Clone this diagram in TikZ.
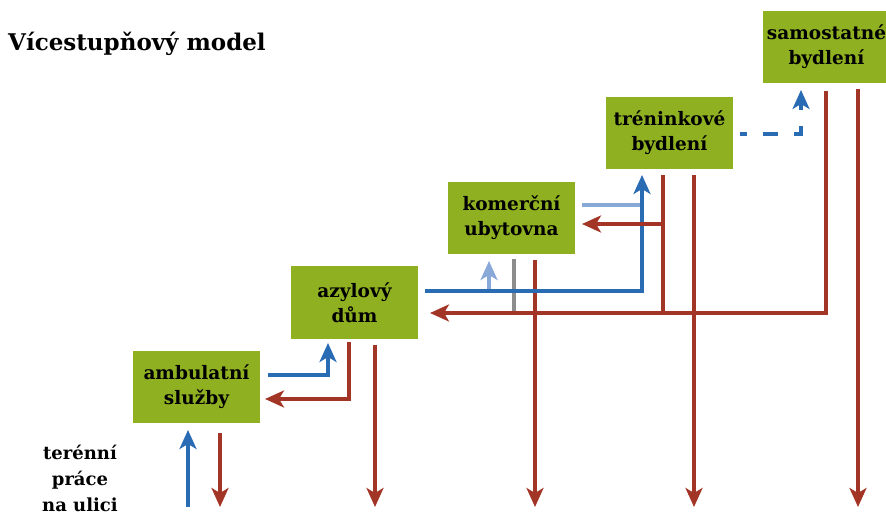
\documentclass[tikz,border=0pt]{standalone}
\usepackage{fontspec}
\setmainfont{DejaVu Serif}
\usepackage{xcolor}
\usetikzlibrary{arrows.meta}

\definecolor{stepgreen}{HTML}{8FB021}
\definecolor{upblue}{HTML}{2A6CB4}
\definecolor{lightblue}{HTML}{88A8D8}
\definecolor{downred}{HTML}{A33526}

\begin{document}
\begin{tikzpicture}[x=1pt,y=-1pt,
            level/.style={rectangle,fill=stepgreen,minimum width=127pt,minimum height=72pt,
                inner sep=0pt,align=center,font=\bfseries\fontsize{18.5}{25}\selectfont},
            up/.style={draw=upblue,line width=3.2pt,-{Stealth[length=19pt,width=17pt,inset=5pt]}},
            uplight/.style={draw=lightblue,line width=3.2pt,-{Stealth[length=19pt,width=17pt,inset=5pt]}},
            down/.style={draw=downred,line width=3.2pt,-{Stealth[length=19pt,width=17pt,inset=5pt]}},
            plainred/.style={draw=downred,line width=3.2pt}
        ]
            \useasboundingbox (0,0) rectangle (886,521);

            % Title
            \node[anchor=base west,font=\bfseries\fontsize{23}{28}\selectfont,inner sep=0pt] (title) at (8,51) {Vícestupňový model};

            % Levels
            \node[level] (amb) at (196.5,387) {ambulatní\\služby};
            \node[level] (azy) at (354.5,302.5) {azylový\\dům};
            \node[level] (kom) at (511.5,218) {komerční\\ubytovna};
            \node[level] (tre) at (669.5,133) {tréninkové\\bydlení};
            \node[level] (sam) at (826.5,47) {samostatné\\bydlení};

            \node[align=center,font=\bfseries\fontsize{18}{26}\selectfont] (street) at (80,478) {terénní\\práce\\na ulici};

            % Free ends
            \coordinate (s1) at (188,507);
            \coordinate (s2) at (188,430);
            \coordinate (s3) at (220,433);
            \coordinate (s4) at (220,507);

            \coordinate (a1) at (268,375);
            \coordinate (a2) at (328,375);
            \coordinate (a3) at (328,343);
            \coordinate (a4) at (349,342);
            \coordinate (a5) at (349,399);
            \coordinate (a6) at (265,399);
            \coordinate (a7) at (375,345);
            \coordinate (a8) at (375,507);

            \coordinate (b1) at (425,291);
            \coordinate (b2) at (642,291);
            \coordinate (b3) at (642,175);
            \coordinate (b4) at (489,291);
            \coordinate (b5) at (489,261);
            \coordinate (b6) at (514,259);
            \coordinate (b7) at (514,311);
            \coordinate (b8) at (535,260);
            \coordinate (b9) at (535,507);

            \coordinate (c1) at (582,205);
            \coordinate (c2) at (642,205);
            \coordinate (c3) at (663,175);
            \coordinate (c4) at (663,224);
            \coordinate (c5) at (582,224);
            \coordinate (c6) at (694,175);
            \coordinate (c7) at (694,507);
            \coordinate (c8) at (663,313);

            \coordinate (d1) at (740,134);
            \coordinate (d2) at (801,134);
            \coordinate (d3) at (801,90);
            \coordinate (d4) at (826,91);
            \coordinate (d5) at (826,313);
            \coordinate (d6) at (430,313);
            \coordinate (d7) at (858,89);
            \coordinate (d8) at (858,507);

            % Street work
            \draw[up] (s1) -- (s2);
            \draw[down] (s3) -- (s4);

            % Outpatient services and shelter
            \draw[up] (a1) -- (a2) -- (a3);
            \draw[down] (a4) -- (a5) -- (a6);
            \draw[down] (a7) -- (a8);

            % Shelter and hostel
            \draw[uplight] (b4) -- (b5);
            \draw[draw=black!45,line width=3.2pt] (b6) -- (b7);
            \draw[down] (b8) -- (b9);
            \draw[draw=lightblue,line width=3.2pt] (c1) -- (c2);
            \draw[up] (b1) -- (b2) -- (b3);

            % Training housing
            \draw[plainred] (c3) -- (c4);
            \draw[down] (c4) -- (c5);
            \draw[plainred] (c4) -- (c8);
            \draw[down] (c6) -- (c7);

            % Independent housing
            \draw[up,dash pattern=on 15pt off 16pt,dash phase=8pt] (d1) -- (d2) -- (d3);
            \draw[down] (d4) -- (d5) -- (d6);
            \draw[down] (d7) -- (d8);
        \end{tikzpicture}
\end{document}
